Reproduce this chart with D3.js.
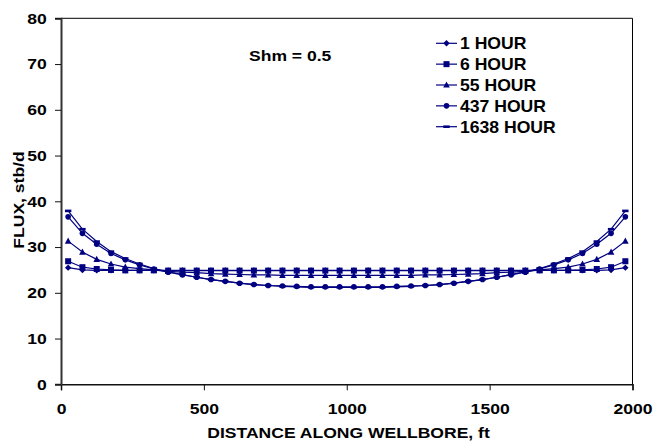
<!DOCTYPE html>
<html>
<head>
<meta charset="utf-8">
<script src="https://cdn.jsdelivr.net/npm/d3@7"></script>
<style>
  html, body { margin: 0; padding: 0; background: #fff; }
  svg { display: block; }
  text { font-family: "Liberation Sans", Arial, sans-serif; font-weight: bold; fill: #000; }
</style>
</head>
<body>
<svg id="chart" width="653" height="445"></svg>
<script>
// ---------- data ----------
const distance = [25,75,125,175,225,275,325,375,425,475,525,575,625,675,725,775,825,875,925,975,
                  1025,1075,1125,1175,1225,1275,1325,1375,1425,1475,1525,1575,1625,1675,1725,1775,1825,1875,1925,1975];
const seriesNames = ["1 HOUR", "6 HOUR", "55 HOUR", "437 HOUR", "1638 HOUR"];
const flux1 = [25.5,25.0,24.9,24.9,24.9,24.9,24.9,24.9,24.9,24.9,24.9,24.9,24.9,24.9,24.9,24.9,24.9,24.9,24.9,24.9,
               24.9,24.9,24.9,24.9,24.9,24.9,24.9,24.9,24.9,24.9,24.9,24.9,24.9,24.9,24.9,24.9,24.9,24.9,25.0,25.5];
const flux6 = [26.9,25.6,25.2,25.0,24.9,24.9,24.9,24.85,24.85,24.85,24.85,24.85,24.85,24.85,24.85,24.85,24.85,24.85,24.85,24.85,
               24.85,24.85,24.85,24.85,24.85,24.85,24.85,24.85,24.85,24.85,24.85,24.85,24.85,24.9,24.9,24.9,25.0,25.2,25.6,26.9];
const flux55 = [31.3,28.9,27.3,26.3,25.6,25.3,25.0,24.7,24.5,24.4,24.2,24.1,24.0,23.9,23.9,23.8,23.8,23.8,23.8,23.8,
                23.8,23.8,23.8,23.8,23.8,23.9,23.9,24.0,24.1,24.2,24.4,24.5,24.7,25.0,25.3,25.6,26.3,27.3,28.9,31.3];
const flux437 = [36.6,33.0,30.6,28.6,27.2,26.1,25.2,24.5,23.9,23.4,22.9,22.5,22.1,21.8,21.6,21.5,21.4,21.3,21.3,21.3,
                 21.3,21.3,21.3,21.4,21.5,21.6,21.8,22.1,22.5,22.9,23.4,23.9,24.5,25.2,26.1,27.2,28.6,30.6,33.0,36.6];
const flux1638 = [37.9,33.9,31.2,29.0,27.5,26.3,25.3,24.6,24.0,23.4,22.9,22.5,22.1,21.8,21.6,21.4,21.3,21.2,21.2,21.2,
                  21.2,21.2,21.2,21.3,21.4,21.6,21.8,22.1,22.5,22.9,23.4,24.0,24.6,25.3,26.3,27.5,29.0,31.2,33.9,37.9];
const xTicks = [0, 500, 1000, 1500, 2000];
const yTicks = [0, 10, 20, 30, 40, 50, 60, 70, 80];
const annotation = "Shm = 0.5";
const xTitle = "DISTANCE ALONG WELLBORE, ft";
const yTitle = "FLUX, stb/d";

// ---------- layout ----------
const svg = d3.select("#chart");
const pLeft = 61, pRight = 632.5, pTop = 18.3, pBottom = 384.3;
const color = "#000080";
const STRETCH = 1.17;
const FS = 15;
const LEG_FS = 16, LEG_STRETCH = 1.1;

const x = d3.scaleLinear().domain([0, 2000]).range([pLeft, pRight]);
const y = d3.scaleLinear().domain([0, 80]).range([pBottom, pTop]);

const series = [
  { name: seriesNames[0], values: flux1, marker: "diamond" },
  { name: seriesNames[1], values: flux6, marker: "square" },
  { name: seriesNames[2], values: flux55, marker: "triangle" },
  { name: seriesNames[3], values: flux437, marker: "circle" },
  { name: seriesNames[4], values: flux1638, marker: "dash" }
];

// plot border (top & right)
svg.append("line").attr("x1", pLeft).attr("x2", pRight).attr("y1", pTop).attr("y2", pTop)
  .attr("stroke", "#000").attr("stroke-width", 1);
svg.append("line").attr("x1", pRight).attr("x2", pRight).attr("y1", pTop).attr("y2", pBottom)
  .attr("stroke", "#000").attr("stroke-width", 1);

// axes
const gx = svg.append("g").attr("transform", `translate(0,${pBottom})`)
  .call(d3.axisBottom(x).tickValues(xTicks).tickSize(6).tickPadding(13).tickFormat(d3.format("d")));
gx.attr("font-family", null).attr("font-size", null);
gx.select(".domain").attr("stroke", "#111").attr("stroke-width", 1.5);
gx.selectAll(".tick line").attr("stroke", "#111").attr("stroke-width", 1);
gx.selectAll(".tick text").attr("font-size", FS).attr("fill", "#000")
  .attr("transform", `scale(${STRETCH},1)`);

const gy = svg.append("g").attr("transform", `translate(${pLeft},0)`)
  .call(d3.axisLeft(y).tickValues(yTicks).tickSize(6).tickPadding(8));
gy.attr("font-family", null).attr("font-size", null);
gy.select(".domain").attr("stroke", "#333").attr("stroke-width", 2);
gy.selectAll(".tick line").attr("stroke", "#111").attr("stroke-width", 1);
gy.selectAll(".tick text").attr("font-size", FS).attr("fill", "#000")
  .attr("x", -14.3 / STRETCH).attr("transform", `scale(${STRETCH},1)`);

// marker drawing
function drawMarker(g, type, cx, cy) {
  if (type === "diamond") {
    g.append("path").attr("d", `M${cx},${cy-3.2}L${cx+3.2},${cy}L${cx},${cy+3.2}L${cx-3.2},${cy}Z`).attr("fill", color);
  } else if (type === "square") {
    g.append("rect").attr("x", cx-3).attr("y", cy-3).attr("width", 6).attr("height", 6).attr("fill", color);
  } else if (type === "triangle") {
    g.append("path").attr("d", `M${cx},${cy-3.6}L${cx+3.3},${cy+2.6}L${cx-3.3},${cy+2.6}Z`).attr("fill", color);
  } else if (type === "circle") {
    g.append("circle").attr("cx", cx).attr("cy", cy).attr("r", 2.8).attr("fill", color);
  } else if (type === "dash") {
    g.append("rect").attr("x", cx-3.2).attr("y", cy-1.3).attr("width", 6.4).attr("height", 2.6).attr("fill", color);
  }
}

const line = d3.line().x((d, i) => x(distance[i])).y(d => y(d));
series.forEach(s => {
  const g = svg.append("g");
  g.append("path").datum(s.values).attr("d", line)
    .attr("fill", "none").attr("stroke", color).attr("stroke-width", 1.2);
  s.values.forEach((v, i) => drawMarker(g, s.marker, x(distance[i]), y(v)));
});

// legend
const legX0 = 436, legX1 = 457, legY0 = 43.3, legDY = 20.85;
series.forEach((s, i) => {
  const ly = legY0 + i * legDY;
  const g = svg.append("g");
  g.append("line").attr("x1", legX0).attr("x2", legX1).attr("y1", ly).attr("y2", ly)
    .attr("stroke", color).attr("stroke-width", 1.2);
  drawMarker(g, s.marker, (legX0 + legX1) / 2, ly);
  g.append("text").attr("transform", `translate(460,${ly + 5.8}) scale(${LEG_STRETCH},1)`)
    .attr("font-size", LEG_FS).text(s.name);
});

// annotation
svg.append("text").attr("transform", `translate(249,61) scale(${STRETCH},1)`)
  .attr("font-size", FS).text(annotation);

// axis titles
svg.append("text").attr("transform", `translate(348.5,438) scale(${STRETCH},1)`)
  .attr("text-anchor", "middle").attr("font-size", FS).text(xTitle);
svg.append("text").attr("transform", `translate(23.5,200) rotate(-90) scale(${STRETCH},1)`)
  .attr("text-anchor", "middle").attr("font-size", FS).text(yTitle);
</script>
</body>
</html>
